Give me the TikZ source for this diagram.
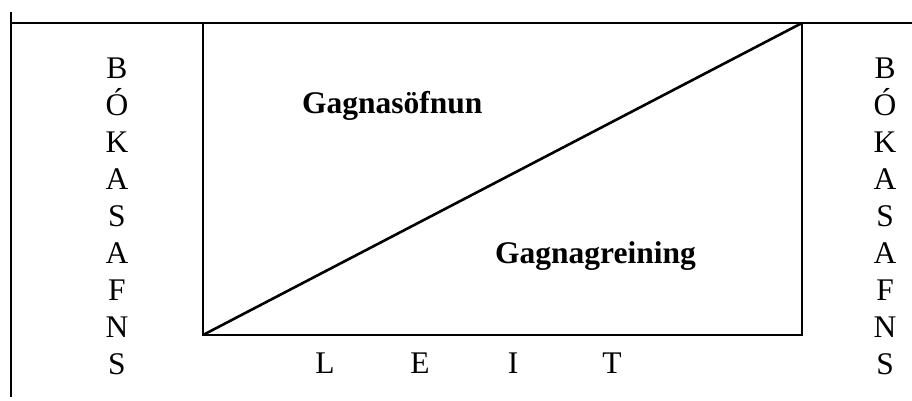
\documentclass[tikz,border=0pt]{standalone}
\usepackage{fontspec}
\setmainfont{Liberation Serif}
\begin{document}
\begin{tikzpicture}[x=1pt,y=-1pt,
  rule/.style={line width=2.6pt,line cap=rect},
  letter/.style={anchor=base,inner sep=0pt,font=\fontsize{31.5}{37}\selectfont},
  label/.style={anchor=base west,inner sep=0pt,font=\fontsize{31.5}{37}\selectfont\bfseries}]
\useasboundingbox (0,0) rectangle (912,400);
% frame lines
\coordinate (vtop) at (11,12);
\coordinate (vbot) at (11,397);
\coordinate (hl) at (11,23);
\coordinate (hr) at (912,23);
\coordinate (tl) at (203,23);
\coordinate (tr) at (802,23);
\coordinate (bl) at (203,335);
\coordinate (br) at (802,335);
\draw[rule,line cap=butt] (vtop) -- (vbot);
\draw[rule,line cap=butt] (hl) -- (hr);
\draw[rule] (tl) -- (bl) -- (br) -- (tr);
\draw[rule,line cap=butt] (bl) -- (tr);
% side columns
\foreach \ch [count=\i from 0] in {B,Ó,K,A,S,A,F,N,S} {
  \node[letter] (l\i) at (117,78+37*\i) {\ch};
  \node[letter] (r\i) at (885,78+37*\i) {\ch};
}
% bottom
\node[letter] (bL) at (325,373) {L};
\node[letter] (bE) at (420,373) {E};
\node[letter] (bI) at (513,373) {I};
\node[letter] (bT) at (612,373) {T};
% labels
\node[label] (soefn) at (302,113) {Gagnasöfnun};
\node[label] (grein) at (495,263) {Gagnagreining};
\end{tikzpicture}
\end{document}
